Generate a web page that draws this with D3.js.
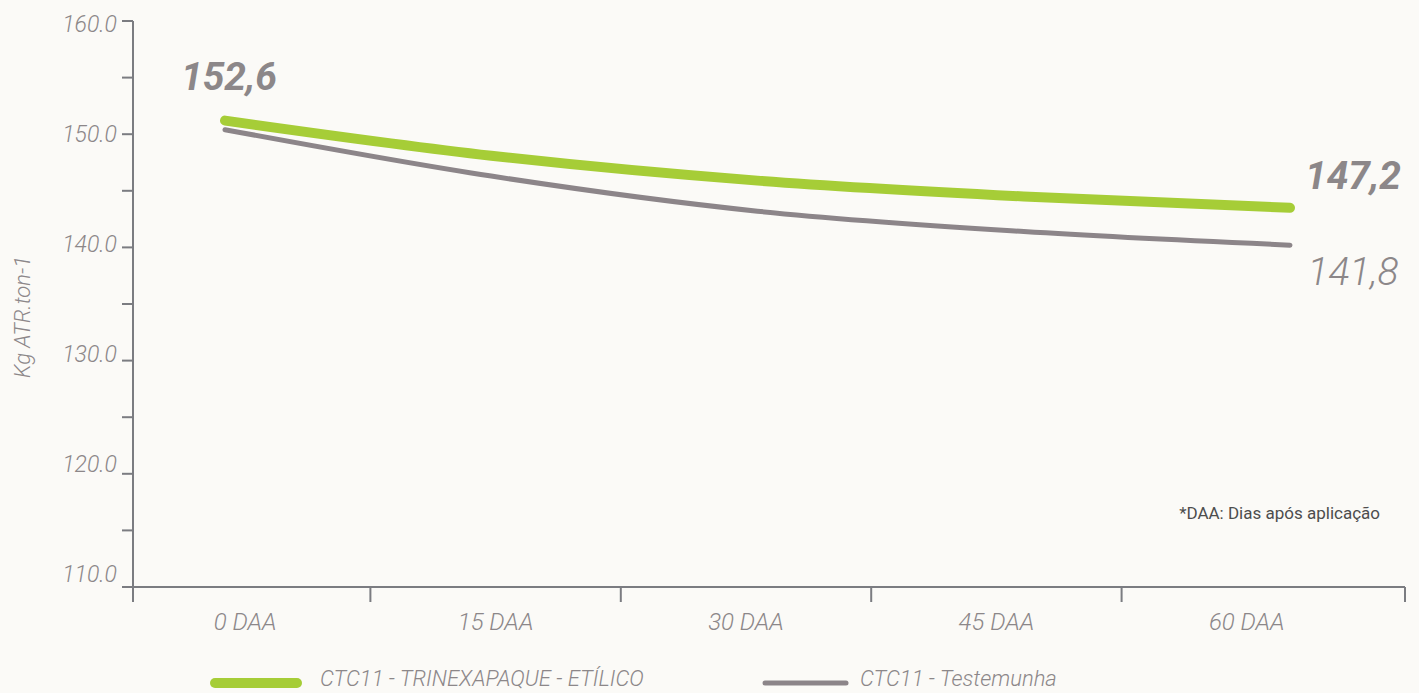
<!DOCTYPE html>
<html>
<head>
<meta charset="utf-8">
<script src="https://cdn.jsdelivr.net/npm/d3@7"></script>
<style>
  html, body { margin: 0; padding: 0; background: #fbfaf7; }
  svg { display: block; }
  text { font-family: Roboto, "Liberation Sans", sans-serif; }
</style>
</head>
<body>
<svg id="chart" width="1419" height="693"></svg>
<script>
// ---- data ----
const categories = ["0 DAA", "15 DAA", "30 DAA", "45 DAA", "60 DAA"];
const days = [0, 15, 30, 45, 60];
const trinexapaque = [151.2, 148.1, 145.9, 144.5, 143.5];
const testemunha = [150.4, 146.3, 143.2, 141.4, 140.2];
const yTickValues = [110, 120, 130, 140, 150, 160];
const yMinorTicks = [115, 125, 135, 145, 155];
const annotStart = "152,6";
const annotGreenEnd = "147,2";
const annotGrayEnd = "141,8";
const seriesNames = ["CTC11 - TRINEXAPAQUE - ETÍLICO", "CTC11 - Testemunha"];
const yTitle = "Kg ATR.ton-1";
const note = "*DAA: Dias após aplicação";

// ---- style ----
const GREEN = "#a6cd37";
const GRAY = "#8c8589";
const TEXT = "#8c8789";
const AXIS = "#7b7c81";

const svg = d3.select("#chart");

const axisX0 = 133, axisX1 = 1405;
const y = d3.scaleLinear().domain([110, 160]).range([587, 21]);
// tick labels in the reference are spaced slightly tighter than the ticks
const yLabel = d3.scaleLinear().domain([110, 160]).range([582, 32]);
const xLine = d3.scaleLinear().domain([0, 60]).range([225, 1290]);
const xBand = d3.scaleBand().domain(categories).range([120, 1372]).padding(0);

// Y axis
const gy = svg.append("g");
gy.append("line").attr("x1", axisX0).attr("x2", axisX0)
  .attr("y1", y(160)).attr("y2", 602)
  .attr("stroke", AXIS).attr("stroke-width", 2);
gy.selectAll("line.tick").data(yTickValues.concat(yMinorTicks)).join("line")
  .attr("class", "tick")
  .attr("x1", 122).attr("x2", axisX0)
  .attr("y1", d => y(d)).attr("y2", d => y(d))
  .attr("stroke", AXIS).attr("stroke-width", 2);
gy.selectAll("text").data(yTickValues).join("text")
  .attr("x", 117).attr("y", d => yLabel(d))
  .attr("text-anchor", "end")
  .attr("font-size", 23).attr("font-style", "italic").attr("font-weight", 300)
  .attr("fill", TEXT)
  .text(d => d3.format(".1f")(d));

// X axis
const gx = svg.append("g");
gx.append("line").attr("x1", 122).attr("x2", axisX1)
  .attr("y1", y(110)).attr("y2", y(110))
  .attr("stroke", AXIS).attr("stroke-width", 2);
const boundaries = categories.slice(1).map(c => xBand(c));
gx.selectAll("line.tick").data([axisX0].concat(boundaries, [axisX1])).join("line")
  .attr("class", "tick")
  .attr("x1", d => d).attr("x2", d => d)
  .attr("y1", y(110)).attr("y2", 602)
  .attr("stroke", AXIS).attr("stroke-width", 2);
gx.selectAll("text").data(categories).join("text")
  .attr("x", d => xBand(d) + xBand.bandwidth() / 2).attr("y", 630)
  .attr("text-anchor", "middle")
  .attr("font-size", 24).attr("font-style", "italic").attr("font-weight", 300)
  .attr("fill", TEXT)
  .text(d => d);

// Y title
svg.append("text")
  .attr("transform", "translate(30,317) rotate(-90)")
  .attr("text-anchor", "middle")
  .attr("font-size", 22).attr("font-style", "italic").attr("font-weight", 300)
  .attr("fill", TEXT)
  .text(yTitle);

// lines
const line = d3.line().x(d => xLine(d[0])).y(d => y(d[1])).curve(d3.curveMonotoneX);
svg.append("path").datum(days.map((d, i) => [d, testemunha[i]]))
  .attr("d", line).attr("fill", "none")
  .attr("stroke", GRAY).attr("stroke-width", 5).attr("stroke-linecap", "round");
svg.append("path").datum(days.map((d, i) => [d, trinexapaque[i]]))
  .attr("d", line).attr("fill", "none")
  .attr("stroke", GREEN).attr("stroke-width", 10).attr("stroke-linecap", "round");

// annotations
svg.append("text").attr("x", 229).attr("y", 90).attr("text-anchor", "middle")
  .attr("font-size", 39).attr("font-style", "italic").attr("font-weight", 700)
  .attr("fill", TEXT).text(annotStart);
svg.append("text").attr("x", 1353).attr("y", 189).attr("text-anchor", "middle")
  .attr("font-size", 39).attr("font-style", "italic").attr("font-weight", 700)
  .attr("fill", TEXT).text(annotGreenEnd);
svg.append("text").attr("x", 1353).attr("y", 285).attr("text-anchor", "middle")
  .attr("font-size", 39).attr("font-style", "italic").attr("font-weight", 300)
  .attr("fill", TEXT).text(annotGrayEnd);

// note
svg.append("text").attr("x", 1380).attr("y", 519).attr("text-anchor", "end")
  .attr("font-size", 17).attr("fill", "#4d4d4d").text(note);

// legend
const legend = [
  { name: seriesNames[0], color: GREEN, w: 10, x0: 215, x1: 297, tx: 320 },
  { name: seriesNames[1], color: GRAY, w: 5, x0: 765, x1: 846, tx: 860 }
];
const lg = svg.append("g");
lg.selectAll("line").data(legend).join("line")
  .attr("x1", d => d.x0).attr("x2", d => d.x1)
  .attr("y1", 683).attr("y2", 683)
  .attr("stroke", d => d.color).attr("stroke-width", d => d.w)
  .attr("stroke-linecap", "round");
lg.selectAll("text").data(legend).join("text")
  .attr("x", d => d.tx).attr("y", 686)
  .attr("font-size", 22).attr("font-style", "italic").attr("font-weight", 300)
  .attr("fill", TEXT).text(d => d.name);
</script>
</body>
</html>
